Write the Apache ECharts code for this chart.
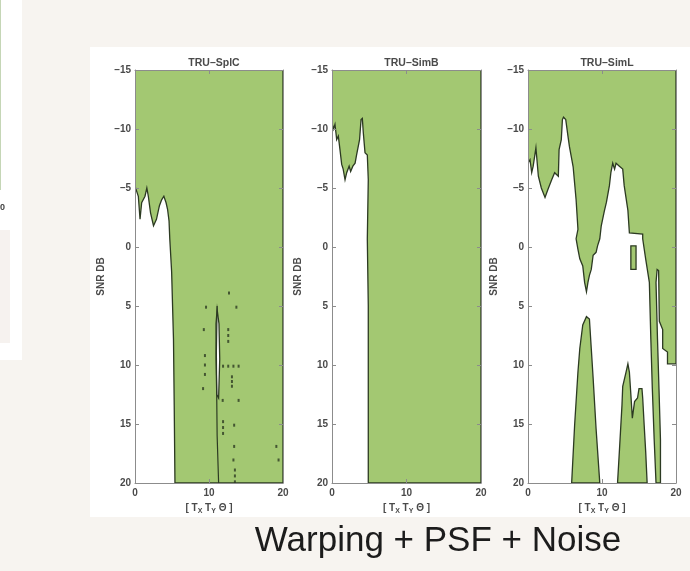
<!DOCTYPE html>
<html>
<head>
<meta charset="utf-8">
<script src="https://cdn.jsdelivr.net/npm/echarts@6/dist/echarts.min.js"></script>
<style>
  html, body { margin: 0; padding: 0; background: #f7f4f0; }
  #chart { width: 690px; height: 571px; }
</style>
</head>
<body>
<div id="chart"></div>
<script>
// panel titles
const titles = ['TRU–SplC', 'TRU–SimB', 'TRU–SimL']

// green region boundaries, [param error, SNR dB]
const splcGreen = [[0, -15], [20, -15], [20, 20], [5.4, 20], [5.3, 13.4], [5.2, 7.8], [4.95, 2.1], [4.7, -0.7],
    [4.6, -2.2], [4.4, -3.2], [4.2, -3.75], [3.9, -4.3], [3.6, -4.0], [3.3, -3.5], [2.9, -2.35], [2.5, -1.8],
    [2.1, -2.9], [1.8, -4.3], [1.6, -5.0], [1.35, -4.3], [0.9, -3.75], [0.68, -2.35], [0.45, -4.3], [0, -5.15]]
const splcSliver = [[11.1, 5.3], [11.35, 6.5], [11.45, 9.5], [11.3, 12.8], [11.05, 12.5], [10.95, 9.5], [10.95, 6.5]]
const splcRidge = [[11.1, 5.0], [11.0, 9], [11.05, 13], [11.1, 16], [11.3, 20]]
const splcDots = [[9.6, 5.1], [9.3, 7.0], [9.45, 9.2], [9.45, 10.0], [9.45, 10.8], [9.2, 12.0], [12.6, 7.0], [12.6, 7.5],
    [12.6, 8.0], [12.7, 3.9], [13.1, 11.0], [13.1, 11.4], [13.1, 11.8], [11.9, 10.1], [12.6, 10.1], [13.3, 10.1],
    [14.0, 10.1], [13.4, 15.1], [13.4, 16.9], [13.3, 18.05], [13.5, 18.9], [13.5, 19.4], [13.5, 19.9], [11.85, 13.0],
    [11.9, 14.8], [11.9, 15.3], [11.9, 15.8], [14.0, 13.0], [19.1, 16.9], [19.4, 18.05], [13.7, 5.1]]

const simbGreen = [[0, -15], [20, -15], [20, 20], [4.87, 20], [4.87, 5.0], [4.74, -0.7], [4.87, -5.7], [4.74, -7.8],
    [4.43, -8.0], [4.2, -9.7], [4.07, -10.9], [3.9, -10.8], [3.7, -9.1], [3.3, -7.8], [3.1, -7.1], [2.8, -6.85],
    [2.5, -6.4], [2.3, -6.85], [1.97, -6.3], [1.75, -5.7], [1.5, -6.6], [1.3, -7.0], [1.07, -8.25], [0.85, -9.4],
    [0.63, -9.1], [0.4, -10.4], [0.2, -10.0], [0, -10.5]]

const simlTop = [[0, -15], [20, -15], [20, 9.9], [18.85, 9.9], [18.85, 8.9], [18.2, 8.6], [18.2, 7.0], [17.75, 6.3],
    [17.65, 2.0], [17.45, 1.9], [17.3, 3.0], [17.5, 7.8], [17.7, 12.0], [17.9, 16.3], [17.9, 20], [17.3, 20],
    [17.05, 16.3], [16.8, 12.0], [16.6, 7.8], [16.4, 3.0], [15.9, 1.0], [15.5, -0.7], [15.5, -1.1], [13.7, -1.2],
    [13.5, -3.1], [13.0, -5.2], [12.8, -6.6], [12.35, -6.85], [11.9, -7.1], [11.7, -6.6], [11.45, -7.1], [11.2, -6.3],
    [11.0, -5.2], [10.6, -3.8], [10.3, -3.0], [9.9, -1.8], [9.7, -0.7], [9.4, -0.1], [9.2, 0.45], [8.8, 0.7],
    [8.55, 1.9], [8.3, 2.4], [8.1, 3.0], [7.9, 3.8], [7.65, 3.0], [7.4, 1.6], [7.0, 1.0], [6.75, 0.2], [6.5, -0.7],
    [6.75, -1.5], [6.5, -4.0], [6.3, -5.4], [6.1, -6.8], [5.6, -8.5], [5.4, -9.4], [5.1, -10.8], [4.8, -11.0],
    [4.65, -10.8], [4.5, -9.1], [4.2, -8.25], [4.1, -6.0], [3.6, -6.3], [3.2, -5.7], [2.7, -4.9], [2.3, -4.2],
    [1.8, -5.0], [1.4, -6.0], [1.07, -8.4], [0.7, -6.85], [0.5, -6.3], [0.27, -7.4], [0, -7.1]]
const simlIslandA = [[5.9, 20], [6.3, 15.1], [6.75, 10.6], [7.0, 8.6], [7.4, 6.6], [7.9, 5.9], [8.3, 6.1], [8.55, 8.6],
    [8.8, 11.1], [9.2, 15.4], [9.7, 20]]
const simlIslandB = [[12.1, 20], [12.35, 17.3], [12.7, 13.4], [12.8, 11.8], [13.25, 10.6], [13.5, 9.9], [13.7, 10.6],
    [13.9, 12.5], [14.1, 14.5], [14.4, 13.1], [14.8, 12.8], [15.0, 12.0], [15.4, 12.0], [15.5, 12.8], [15.7, 15.1],
    [15.9, 17.3], [16.1, 20]]
const simlIslandC = [[13.9, -0.1], [14.6, -0.1], [14.6, 1.9], [13.9, 1.9]]

const GREEN = '#a3c872'
const EDGE = '#2c3a22'
const AXIS = '#8c8c8c'
const FONT = 'Liberation Sans'
const lefts = [135, 332, 528]
const widths = [148, 149, 148]

const chart = echarts.init(document.getElementById('chart'))

const grids = lefts.map((l, i) => ({left: l, top: 70, width: widths[i], height: 413}))

const xAxes = []
const yAxes = []
const labelStyle = {color: '#4a4a4a', fontSize: 10, fontWeight: 'bold', fontFamily: FONT}
lefts.forEach((l, i) => {
    xAxes.push({
        gridIndex: i, type: 'value', min: 0, max: 20, interval: 10, z: 10,
        axisLine: {onZero: false, lineStyle: {color: AXIS}},
        axisTick: {inside: true, length: 4, lineStyle: {color: AXIS}},
        axisLabel: Object.assign({margin: 5}, labelStyle),
        splitLine: {show: false},
        name: '[ T{s|X} T{s|Y} Θ ]', nameLocation: 'middle', nameGap: 17,
        nameTextStyle: Object.assign({rich: {s: {fontSize: 7, fontWeight: 'bold', fontFamily: FONT, color: '#4a4a4a', padding: [7, 0, 0, 0]}}}, labelStyle)
    })
    xAxes.push({
        gridIndex: i, type: 'value', min: 0, max: 20, interval: 10, position: 'top', z: 10,
        axisLine: {onZero: false, lineStyle: {color: AXIS}},
        axisTick: {inside: true, length: 4, lineStyle: {color: AXIS}},
        axisLabel: {show: false}, splitLine: {show: false}
    })
    yAxes.push({
        gridIndex: i, type: 'value', min: -15, max: 20, interval: 5, inverse: true, z: 10,
        axisLine: {onZero: false, lineStyle: {color: AXIS}},
        axisTick: {inside: true, length: 4, lineStyle: {color: AXIS}},
        axisLabel: Object.assign({margin: 4, formatter: v => String(v).replace('-', '–')}, labelStyle),
        splitLine: {show: false},
        name: 'SNR DB', nameLocation: 'middle', nameGap: 29, nameTextStyle: labelStyle
    })
    yAxes.push({
        gridIndex: i, type: 'value', min: -15, max: 20, interval: 5, inverse: true, position: 'right', z: 10,
        axisLine: {onZero: false, lineStyle: {color: AXIS}},
        axisTick: {inside: true, length: 4, lineStyle: {color: AXIS}},
        axisLabel: {show: false}, splitLine: {show: false}
    })
})

function polySeries(panel, polys, fill) {
    return {
        type: 'custom', xAxisIndex: panel * 2, yAxisIndex: panel * 2, clip: true, silent: true,
        data: polys.map(p => p[0]),
        renderItem: (params, api) => ({
            type: 'polygon',
            shape: {points: polys[params.dataIndex].map(p => api.coord(p))},
            style: {fill: fill, stroke: EDGE, lineWidth: 1.3}
        })
    }
}

const series = [
    polySeries(0, [splcGreen], GREEN),
    polySeries(0, [splcSliver], '#ffffff'),
    {
        type: 'line', xAxisIndex: 0, yAxisIndex: 0, data: splcRidge, symbol: 'none', silent: true,
        lineStyle: {color: EDGE, width: 1.2}
    },
    {
        type: 'scatter', xAxisIndex: 0, yAxisIndex: 0, data: splcDots, symbol: 'rect', symbolSize: [2, 3],
        itemStyle: {color: EDGE}, silent: true
    },
    polySeries(1, [simbGreen], GREEN),
    polySeries(2, [simlTop, simlIslandA, simlIslandB, simlIslandC], GREEN)
]

const option = {
    animation: false,
    backgroundColor: '#f7f4f0',
    graphic: [
        {type: 'rect', z: -10, shape: {x: 90, y: 47, width: 600, height: 470}, style: {fill: '#ffffff'}},
        {type: 'rect', z: -10, shape: {x: 0, y: 0, width: 22, height: 360}, style: {fill: '#ffffff'}},
        {type: 'rect', z: -9, shape: {x: 0, y: 230, width: 10, height: 113}, style: {fill: '#f6f2ef'}},
        {type: 'line', z: -9, shape: {x1: 0.5, y1: 0, x2: 0.5, y2: 190}, style: {stroke: '#c5d6b6', lineWidth: 1}},
        {type: 'text', z: -9, style: {x: 0, y: 203, text: '0', font: 'bold 9px "Liberation Sans"', fill: '#444'}},
        {
            type: 'text', z: 5,
            style: {
                x: 438, y: 559, text: 'Warping + PSF + Noise', textAlign: 'center', textVerticalAlign: 'bottom',
                font: '35px "Liberation Sans"', fill: '#1c1c1c'
            }
        }
    ],
    title: titles.map((t, i) => ({
        text: t, left: lefts[i] + widths[i] / 2, top: 53, textAlign: 'center',
        textStyle: {fontSize: 10.5, fontWeight: 'bold', color: '#4a4a4a', fontFamily: FONT}
    })),
    grid: grids,
    xAxis: xAxes,
    yAxis: yAxes,
    series: series
}

chart.setOption(option)
</script>
</body>
</html>
